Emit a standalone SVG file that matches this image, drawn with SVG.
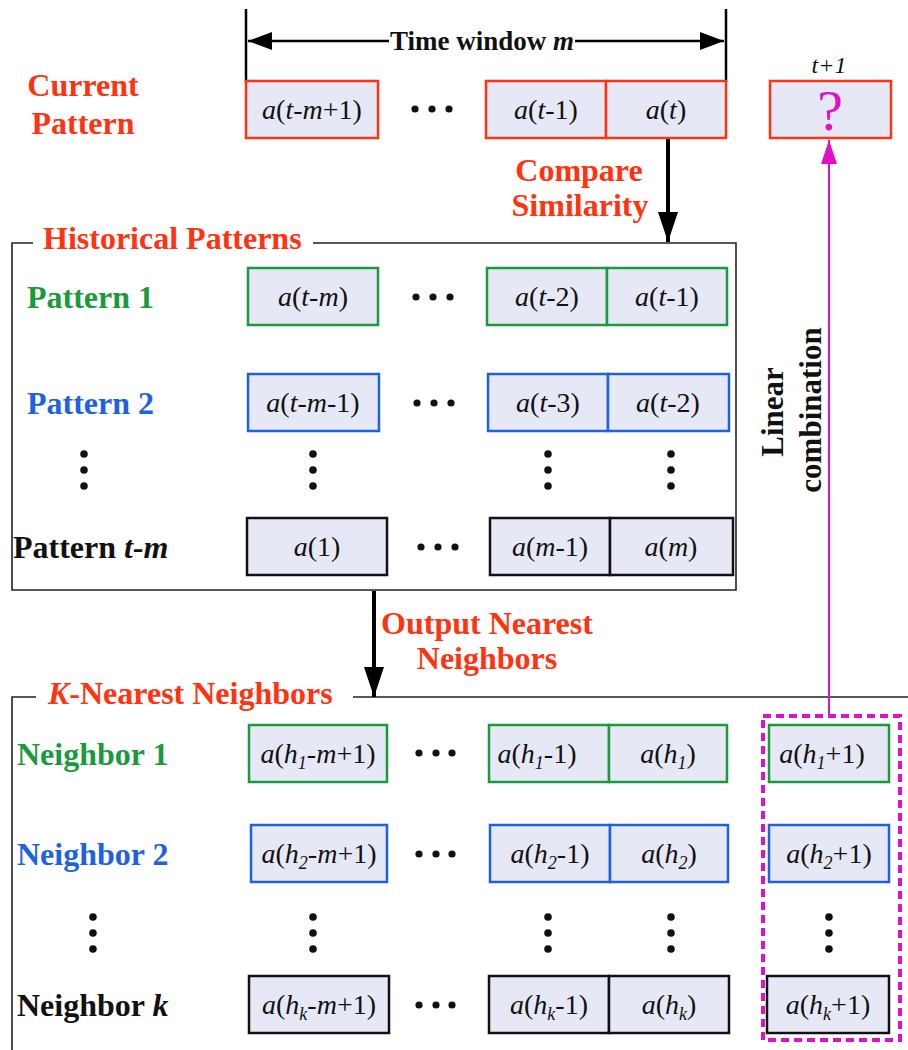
<svg xmlns="http://www.w3.org/2000/svg" width="908" height="1050" viewBox="0 0 908 1050">
<style>
.bx{fill:#e6e8f5;stroke-width:2.5}
.r{stroke:#ff3311}.g{stroke:#1a9a3c}.b{stroke:#1f62e0}.k{stroke:#111}
.t{font-family:"Liberation Serif","Times New Roman",serif;font-size:28px;text-anchor:middle;fill:#111}
.i{font-style:italic}
.s{font-size:18px;font-style:italic}
.lb{font-family:"Liberation Serif","Times New Roman",serif;font-size:32px;font-weight:bold}
.fr{fill:none;stroke:#222;stroke-width:1.6}
.dot{fill:#111}
</style>
<defs>
<marker id="ah" viewBox="0 0 30 20" refX="30" refY="10" markerWidth="30" markerHeight="20" markerUnits="userSpaceOnUse" orient="auto"><path d="M0,0 L30,10 L0,20 Z" fill="#000"/></marker>
<marker id="tw" viewBox="0 0 24 18" refX="24" refY="9" markerWidth="24" markerHeight="18" markerUnits="userSpaceOnUse" orient="auto"><path d="M0,0 L24,9 L0,18 Z" fill="#000"/></marker>
<marker id="mh" viewBox="0 0 24 16" refX="24" refY="8" markerWidth="24" markerHeight="16" markerUnits="userSpaceOnUse" orient="auto"><path d="M0,0 L24,8 L0,16 Z" fill="#e010c8"/></marker>
</defs>

<!-- frames -->
<g id="frames">
<path class="fr" d="M33,243 H12 V590 H736 V243 H313"/>
<text class="lb" x="43" y="249" fill="#ff3311">Historical Patterns</text>
<path class="fr" d="M36,697 H12 V1050 M353,697 H908"/>
<text class="lb" x="48" y="704" fill="#ff3311"><tspan class="i">K</tspan>-Nearest Neighbors</text>
<rect x="763" y="716" width="137" height="324" fill="none" stroke="#e010c8" stroke-width="4" stroke-dasharray="8 5"/>
</g>

<!-- time window -->
<g id="timewindow">
<path d="M246,9 V82 M726,9 V82" stroke="#000" stroke-width="2.5"/>
<text x="482" y="50" font-family="Liberation Serif,Times New Roman,serif" font-size="27" font-weight="bold" text-anchor="middle" fill="#111">Time window <tspan class="i">m</tspan></text>
</g>

<!-- current pattern -->
<g id="current">
<text class="lb" x="83" y="96" text-anchor="middle" fill="#ff3311">Current</text>
<text class="lb" x="83" y="134" text-anchor="middle" fill="#ff3311">Pattern</text>
<rect class="bx r" x="246" y="81" width="132" height="57"/>
<rect class="bx r" x="486" y="81" width="120" height="57"/>
<rect class="bx r" x="606" y="81" width="120" height="57"/>
<text class="t" x="312" y="119"><tspan class="i">a</tspan>(<tspan class="i">t</tspan>-<tspan class="i">m</tspan>+1)</text>
<text class="t" x="546" y="119"><tspan class="i">a</tspan>(<tspan class="i">t</tspan>-1)</text>
<text class="t" x="666" y="119"><tspan class="i">a</tspan>(<tspan class="i">t</tspan>)</text>
<circle class="dot" cx="415" cy="109" r="3.6"/><circle class="dot" cx="432" cy="109" r="3.6"/><circle class="dot" cx="449" cy="109" r="3.6"/>
</g>

<g id="future">
<text x="829" y="73" font-family="Liberation Serif,Times New Roman,serif" font-size="24" font-style="italic" text-anchor="middle" fill="#111">t+1</text>
<rect class="bx r" x="770" y="81" width="121" height="57"/>
<text x="830" y="130" font-family="Liberation Serif,Times New Roman,serif" font-size="58" text-anchor="middle" fill="#e010c8">?</text>
</g>

<!-- pattern 1 -->
<g id="pattern1">
<text class="lb" x="27" y="308" fill="#1a9a3c">Pattern 1</text>
<rect class="bx g" x="248" y="268" width="130" height="57"/>
<rect class="bx g" x="487" y="268" width="120" height="57"/>
<rect class="bx g" x="607" y="268" width="120" height="57"/>
<text class="t" x="313" y="306"><tspan class="i">a</tspan>(<tspan class="i">t</tspan>-<tspan class="i">m</tspan>)</text>
<text class="t" x="547" y="306"><tspan class="i">a</tspan>(<tspan class="i">t</tspan>-2)</text>
<text class="t" x="667" y="306"><tspan class="i">a</tspan>(<tspan class="i">t</tspan>-1)</text>
<circle class="dot" cx="416" cy="297" r="3.6"/><circle class="dot" cx="433" cy="297" r="3.6"/><circle class="dot" cx="450" cy="297" r="3.6"/>
</g>

<!-- pattern 2 -->
<g id="pattern2">
<text class="lb" x="27" y="414" fill="#1f62e0">Pattern 2</text>
<rect class="bx b" x="248" y="374" width="131" height="57"/>
<rect class="bx b" x="488" y="374" width="120" height="57"/>
<rect class="bx b" x="608" y="374" width="121" height="57"/>
<text class="t" x="313" y="412"><tspan class="i">a</tspan>(<tspan class="i">t</tspan>-<tspan class="i">m</tspan>-1)</text>
<text class="t" x="548" y="412"><tspan class="i">a</tspan>(<tspan class="i">t</tspan>-3)</text>
<text class="t" x="668" y="412"><tspan class="i">a</tspan>(<tspan class="i">t</tspan>-2)</text>
<circle class="dot" cx="417" cy="403" r="3.6"/><circle class="dot" cx="434" cy="403" r="3.6"/><circle class="dot" cx="451" cy="403" r="3.6"/>
</g>

<g id="pdots">
<circle class="dot" cx="84" cy="454" r="3.8"/><circle class="dot" cx="84" cy="470" r="3.8"/><circle class="dot" cx="84" cy="486" r="3.8"/>
<circle class="dot" cx="313" cy="454" r="3.8"/><circle class="dot" cx="313" cy="470" r="3.8"/><circle class="dot" cx="313" cy="486" r="3.8"/>
<circle class="dot" cx="548" cy="454" r="3.8"/><circle class="dot" cx="548" cy="470" r="3.8"/><circle class="dot" cx="548" cy="486" r="3.8"/>
<circle class="dot" cx="671" cy="454" r="3.8"/><circle class="dot" cx="671" cy="470" r="3.8"/><circle class="dot" cx="671" cy="486" r="3.8"/>
</g>

<!-- pattern t-m -->
<g id="patterntm">
<text class="lb" x="13" y="558" fill="#111">Pattern <tspan class="i">t-m</tspan></text>
<rect class="bx k" x="247" y="518" width="140" height="57"/>
<rect class="bx k" x="490" y="518" width="120" height="57"/>
<rect class="bx k" x="610" y="518" width="123" height="57"/>
<text class="t" x="317" y="556"><tspan class="i">a</tspan>(1)</text>
<text class="t" x="550" y="556"><tspan class="i">a</tspan>(<tspan class="i">m</tspan>-1)</text>
<text class="t" x="671" y="556"><tspan class="i">a</tspan>(<tspan class="i">m</tspan>)</text>
<circle class="dot" cx="421" cy="547" r="3.6"/><circle class="dot" cx="438" cy="547" r="3.6"/><circle class="dot" cx="455" cy="547" r="3.6"/>
</g>

<!-- neighbor 1 -->
<g id="neighbor1">
<text class="lb" x="17" y="765" fill="#1a9a3c">Neighbor 1</text>
<rect class="bx g" x="249" y="725" width="138" height="57"/>
<rect class="bx g" x="489" y="725" width="120" height="57"/>
<rect class="bx g" x="609" y="725" width="118" height="57"/>
<rect class="bx g" x="769" y="725" width="120" height="57"/>
<text class="t" x="318" y="763"><tspan class="i">a</tspan>(<tspan class="i">h</tspan><tspan class="s" dy="6">1</tspan><tspan dy="-6">-</tspan><tspan class="i">m</tspan>+1)</text>
<text class="t" x="537" y="763"><tspan class="i">a</tspan>(<tspan class="i">h</tspan><tspan class="s" dy="6">1</tspan><tspan dy="-6">-1)</tspan></text>
<text class="t" x="668" y="763"><tspan class="i">a</tspan>(<tspan class="i">h</tspan><tspan class="s" dy="6">1</tspan><tspan dy="-6">)</tspan></text>
<text class="t" x="822" y="763"><tspan class="i">a</tspan>(<tspan class="i">h</tspan><tspan class="s" dy="6">1</tspan><tspan dy="-6">+1)</tspan></text>
<circle class="dot" cx="419" cy="753" r="3.6"/><circle class="dot" cx="436" cy="753" r="3.6"/><circle class="dot" cx="452" cy="753" r="3.6"/>
</g>

<!-- neighbor 2 -->
<g id="neighbor2">
<text class="lb" x="17" y="865" fill="#1f62e0">Neighbor 2</text>
<rect class="bx b" x="251" y="825" width="136" height="57"/>
<rect class="bx b" x="490" y="825" width="120" height="57"/>
<rect class="bx b" x="610" y="825" width="118" height="57"/>
<rect class="bx b" x="769" y="825" width="120" height="57"/>
<text class="t" x="319" y="863"><tspan class="i">a</tspan>(<tspan class="i">h</tspan><tspan class="s" dy="6">2</tspan><tspan dy="-6">-</tspan><tspan class="i">m</tspan>+1)</text>
<text class="t" x="550" y="863"><tspan class="i">a</tspan>(<tspan class="i">h</tspan><tspan class="s" dy="6">2</tspan><tspan dy="-6">-1)</tspan></text>
<text class="t" x="669" y="863"><tspan class="i">a</tspan>(<tspan class="i">h</tspan><tspan class="s" dy="6">2</tspan><tspan dy="-6">)</tspan></text>
<text class="t" x="829" y="863"><tspan class="i">a</tspan>(<tspan class="i">h</tspan><tspan class="s" dy="6">2</tspan><tspan dy="-6">+1)</tspan></text>
<circle class="dot" cx="419" cy="854" r="3.6"/><circle class="dot" cx="436" cy="854" r="3.6"/><circle class="dot" cx="452" cy="854" r="3.6"/>
</g>

<g id="ndots">
<circle class="dot" cx="93" cy="917" r="3.8"/><circle class="dot" cx="93" cy="933" r="3.8"/><circle class="dot" cx="93" cy="949" r="3.8"/>
<circle class="dot" cx="313" cy="917" r="3.8"/><circle class="dot" cx="313" cy="933" r="3.8"/><circle class="dot" cx="313" cy="949" r="3.8"/>
<circle class="dot" cx="548" cy="917" r="3.8"/><circle class="dot" cx="548" cy="933" r="3.8"/><circle class="dot" cx="548" cy="949" r="3.8"/>
<circle class="dot" cx="671" cy="917" r="3.8"/><circle class="dot" cx="671" cy="933" r="3.8"/><circle class="dot" cx="671" cy="949" r="3.8"/>
<circle class="dot" cx="829" cy="917" r="3.8"/><circle class="dot" cx="829" cy="933" r="3.8"/><circle class="dot" cx="829" cy="949" r="3.8"/>
</g>

<!-- neighbor k -->
<g id="neighbork">
<text class="lb" x="17" y="1016" fill="#111">Neighbor <tspan class="i">k</tspan></text>
<rect class="bx k" x="249" y="976" width="140" height="57"/>
<rect class="bx k" x="489" y="976" width="120" height="57"/>
<rect class="bx k" x="609" y="976" width="120" height="57"/>
<rect class="bx k" x="767" y="976" width="122" height="57"/>
<text class="t" x="319" y="1014"><tspan class="i">a</tspan>(<tspan class="i">h</tspan><tspan class="s" dy="6">k</tspan><tspan dy="-6">-</tspan><tspan class="i">m</tspan>+1)</text>
<text class="t" x="549" y="1014"><tspan class="i">a</tspan>(<tspan class="i">h</tspan><tspan class="s" dy="6">k</tspan><tspan dy="-6">-1)</tspan></text>
<text class="t" x="669" y="1014"><tspan class="i">a</tspan>(<tspan class="i">h</tspan><tspan class="s" dy="6">k</tspan><tspan dy="-6">)</tspan></text>
<text class="t" x="828" y="1014"><tspan class="i">a</tspan>(<tspan class="i">h</tspan><tspan class="s" dy="6">k</tspan><tspan dy="-6">+1)</tspan></text>
<circle class="dot" cx="419" cy="1005" r="3.6"/><circle class="dot" cx="436" cy="1005" r="3.6"/><circle class="dot" cx="452" cy="1005" r="3.6"/>
</g>

<!-- connectors -->
<g id="connectors">
<path d="M389,41 H248" stroke="#000" stroke-width="2.5" fill="none" marker-end="url(#tw)"/>
<path d="M575,41 H724" stroke="#000" stroke-width="2.5" fill="none" marker-end="url(#tw)"/>
<path d="M668,139 V242" stroke="#000" stroke-width="4" fill="none" marker-end="url(#ah)"/>
<text class="lb" x="579" y="181" text-anchor="middle" fill="#ff3311">Compare</text>
<text class="lb" x="580" y="216" text-anchor="middle" fill="#ff3311">Similarity</text>
<path d="M374,591 V697" stroke="#000" stroke-width="4" fill="none" marker-end="url(#ah)"/>
<text class="lb" x="487" y="634" text-anchor="middle" fill="#ff3311">Output Nearest</text>
<text class="lb" x="487" y="669" text-anchor="middle" fill="#ff3311">Neighbors</text>
<path d="M829,716 V140" stroke="#e010c8" stroke-width="2" fill="none" marker-end="url(#mh)"/>
<text transform="translate(783,412) rotate(-90)" font-family="Liberation Serif,Times New Roman,serif" font-size="31" font-weight="bold" text-anchor="middle" fill="#111">Linear</text>
<text transform="translate(821,410) rotate(-90)" font-family="Liberation Serif,Times New Roman,serif" font-size="31" font-weight="bold" text-anchor="middle" fill="#111">combination</text>
</g>
</svg>
